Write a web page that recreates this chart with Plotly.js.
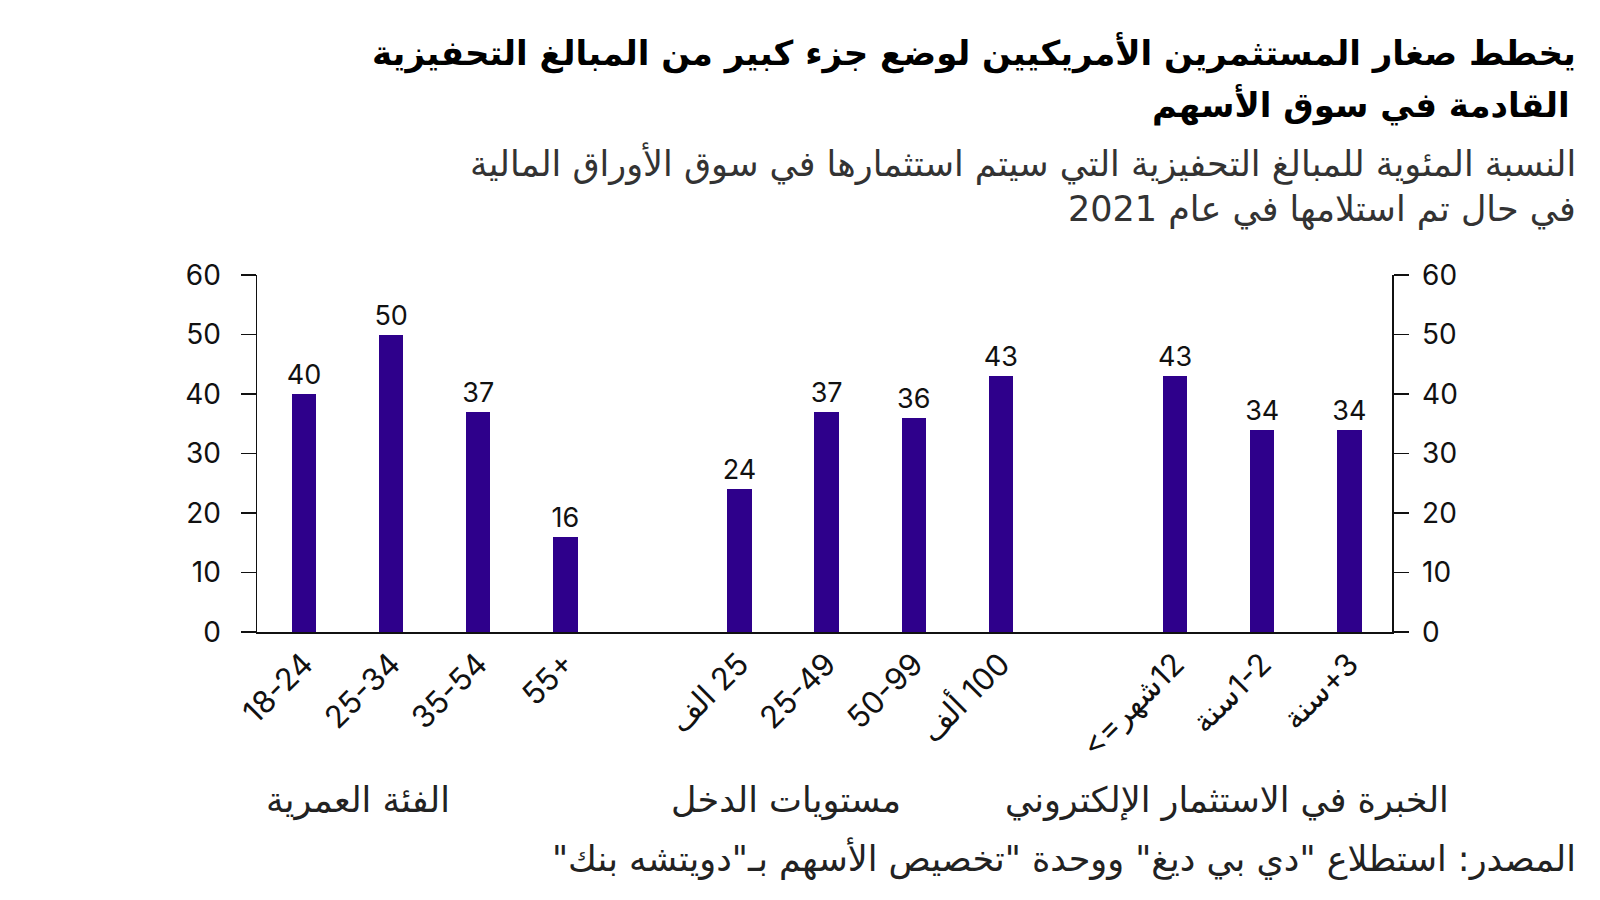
<!DOCTYPE html>
<html>
<head>
<meta charset="utf-8">
<script src="https://cdn.plot.ly/plotly-3.0.1.min.js"></script>
<style>html,body{margin:0;padding:0;background:#fff;}#chart{width:1600px;height:900px;}</style>
</head>
<body>
<div id="chart"></div>
<script>
const RLE = '\u202B', PDF = '\u202C';
const rtl = s => RLE + s + PDF;

// ---- data ----
const ageGroups = ['18-24', '25-34', '35-54', '55+'];
const ageValues = [40, 50, 37, 16];
const incomeGroups = [rtl('25 الف'), '25-49', '50-99', rtl('100 ألف')];
const incomeValues = [24, 37, 36, 43];
const experienceGroups = [rtl('12شهر=>'), rtl('1-2سنة'), rtl('3+سنة')];
const experienceValues = [43, 34, 34];
const groupTitles = ['الفئة العمرية', 'مستويات الدخل', 'الخبرة في الاستثمار الإلكتروني'];
const yTicks = [0, 10, 20, 30, 40, 50, 60];

const titleLines = ['يخطط صغار المستثمرين الأمريكيين لوضع جزء كبير من المبالغ التحفيزية', 'القادمة في سوق الأسهم'];
const subtitleLines = ['النسبة المئوية للمبالغ التحفيزية التي سيتم استثمارها في سوق الأوراق المالية', 'في حال تم استلامها في عام 2021'];
const sourceText = 'المصدر: استطلاع "دي بي ديغ" ووحدة "تخصيص الأسهم بـ"دويتشه بنك"';

// build category axis with gaps between groups
const realCats = [...ageGroups, ...incomeGroups, ...experienceGroups];
const xCats = [...ageGroups, ' ', ...incomeGroups, '  ', ...experienceGroups];
const yVals = [...ageValues, null, ...incomeValues, null, ...experienceValues];
const labels = yVals.map(v => v === null ? '' : String(v));

const BAR = '#2E008B';
const NUMFONT = 'Inter, "DejaVu Sans", sans-serif';
const ARFONT = '"DejaVu Sans", sans-serif';

// plot area geometry (px)
const L = 257, R = 1392, T = 275, B = 632;
const px = x => (x - L) / (R - L);
const py = y => (B - y) / (B - T);

const traces = [
  {
    type: 'bar', x: xCats, y: yVals, width: 0.28,
    marker: {color: BAR},
    text: labels, textposition: 'outside', cliponaxis: false, constraintext: 'none',
    textfont: {family: NUMFONT, size: 27, color: '#111'},
    hoverinfo: 'skip', showlegend: false
  },
  {
    type: 'scatter', mode: 'markers', x: xCats, y: yVals, yaxis: 'y2',
    marker: {opacity: 0}, hoverinfo: 'skip', showlegend: false
  }
];

const yAxisBase = {
  range: [0, 60], tickvals: yTicks, ticktext: yTicks.map(String),
  showline: true, linecolor: '#111', linewidth: 1.5,
  ticks: 'outside', ticklen: 15, tickwidth: 1.5, tickcolor: '#111',
  showgrid: false, zeroline: false, fixedrange: true,
  tickfont: {family: NUMFONT, size: 28, color: '#111'}
};

const annotations = [];
const addText = (text, x, y, size, opts) => annotations.push(Object.assign({
  text: rtl(text), xref: 'paper', yref: 'paper', x: px(x), y: py(y),
  xanchor: 'right', yanchor: 'middle', showarrow: false,
  font: {family: ARFONT, size: size, color: '#111'}
}, opts || {}));

addText('<b>' + titleLines[0] + '</b>', 1578, 53, 34, {font: {family: ARFONT, size: 34, color: '#000'}});
addText('<b>' + titleLines[1] + '</b>', 1572, 105, 34, {font: {family: ARFONT, size: 34, color: '#000'}});
addText(subtitleLines[0], 1578, 163, 35, {font: {family: ARFONT, size: 35, color: '#333'}});
addText(subtitleLines[1], 1578, 209, 35, {font: {family: ARFONT, size: 35, color: '#333'}});
const groupCenters = [358, 786, 1227];
groupTitles.forEach((g, i) => addText(g, groupCenters[i], 800, 35, {xanchor: 'center', font: {family: ARFONT, size: 35, color: '#222'}}));
addText(sourceText, 1578, 858, 35, {font: {family: ARFONT, size: 35, color: '#222'}});

const layout = {
  width: 1600, height: 900,
  paper_bgcolor: '#fff', plot_bgcolor: '#fff',
  margin: {l: L, r: 1600 - R, t: T, b: 900 - B, autoexpand: false},
  showlegend: false,
  bargap: 0,
  xaxis: {
    type: 'category', range: [-0.54, 12.49], automargin: false,
    categoryorder: 'array', categoryarray: xCats,
    tickmode: 'array', tickvals: realCats, ticktext: realCats,
    showline: true, linecolor: '#111', linewidth: 1.5,
    ticks: '', tickangle: -45, showgrid: false, zeroline: false, fixedrange: true,
    tickfont: {family: NUMFONT, size: 31, color: '#111'}
  },
  yaxis: Object.assign({}, yAxisBase, {side: 'left', ticklabelstandoff: 14}),
  yaxis2: Object.assign({}, yAxisBase, {side: 'right', overlaying: 'y', anchor: 'x', ticklabelstandoff: 8}),
  annotations: annotations
};

Plotly.newPlot('chart', traces, layout, {displayModeBar: false, staticPlot: true});
</script>
</body>
</html>
